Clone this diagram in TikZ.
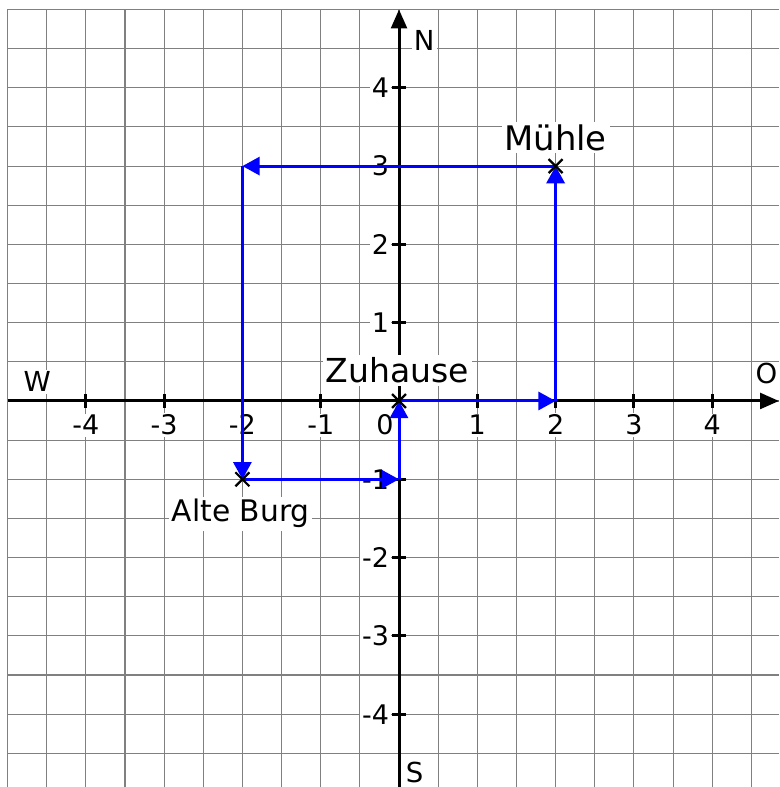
\documentclass[tikz,border=0pt]{standalone}
\usepackage{fontspec}
\setmainfont{DejaVu Sans}
\usetikzlibrary{arrows.meta,shapes.misc}
\begin{document}
\begin{tikzpicture}[x=1cm,y=1cm,
  gridline/.style={draw=black!50, line width=0.4pt},
  axis/.style={line width=1.1pt, -{Triangle[width=0.2cm,length=0.24cm]}},
  tickmark/.style={line width=1.1pt},
  ticklbl/.style={font=\fontsize{9.8}{11}\selectfont, fill=white, inner sep=0.6pt},
  dirlbl/.style={font=\fontsize{10}{12}\selectfont, fill=white, inner sep=0.8pt, anchor=base},
  placelbl/.style={fill=white, inner sep=1pt, anchor=base},
  route/.style={draw=blue, line width=1.1pt, -{Triangle[width=0.23cm,length=0.22cm]}},
  ptcross/.style={cross out, draw=black, line width=0.8pt, minimum size=0.15cm, inner sep=0pt}]
\useasboundingbox (-5.096,-4.93) rectangle (4.853,5.121);
\fill[white] (-5.096,-4.93) rectangle (4.853,5.121);
\draw[gridline, step=0.5cm] (-5,-4.93) grid (4.853,5);
% direction labels
\node[dirlbl] (W) at (-4.62,0.115) {W};
\node[dirlbl, anchor=base east, inner sep=0.3pt] (O) at (4.85,0.22) {O};
\node[dirlbl] (N) at (0.32,4.48) {N};
\node[dirlbl] (S) at (0.2,-4.87) {S};
% tick labels
\foreach \i in {-4,-3,-2,-1,1,2,3,4} {
  \node[ticklbl, anchor=base] (xl\i) at (\i,-0.434) {\i};
  \node[ticklbl, anchor=east] (yl\i) at (-0.1,\i) {\i};
}
\node[ticklbl, anchor=base] (xl0) at (-0.18,-0.434) {0};
% axes
\coordinate (xs) at (-5,0);
\coordinate (xe) at (4.853,0);
\coordinate (ys) at (0,-4.93);
\coordinate (ye) at (0,5);
\draw[axis] (xs) -- (xe);
\draw[axis] (ys) -- (ye);
\foreach \i in {-4,-3,-2,-1,1,2,3,4} {
  \draw[tickmark] (\i,-0.085) -- (\i,0.085);
  \draw[tickmark] (-0.085,\i) -- (0.085,\i);
}
% place labels
\node[placelbl, font=\fontsize{12}{14}\selectfont] (Zl) at (-0.02,0.23) {Zuhause};
\node[placelbl, font=\fontsize{12.3}{14}\selectfont] (Ml) at (2,3.205) {Mühle};
\node[placelbl, font=\fontsize{10.8}{13}\selectfont] (Al) at (-2.02,-1.545) {Alte Burg};
% route
\coordinate (Z) at (0,0);
\coordinate (C1) at (2,0);
\coordinate (M) at (2,3);
\coordinate (C2) at (-2,3);
\coordinate (A) at (-2,-1);
\coordinate (C3) at (0,-1);
\draw[route] (Z) -- (C1);
\draw[route] (C1) -- (M);
\draw[route] (M) -- (C2);
\draw[route] (C2) -- (A);
\draw[route] (A) -- (C3);
\draw[route] (C3) -- (Z);
% points
\node[ptcross] (Zx) at (Z) {};
\node[ptcross] (Mx) at (M) {};
\node[ptcross] (Ax) at (A) {};
\end{tikzpicture}
\end{document}
